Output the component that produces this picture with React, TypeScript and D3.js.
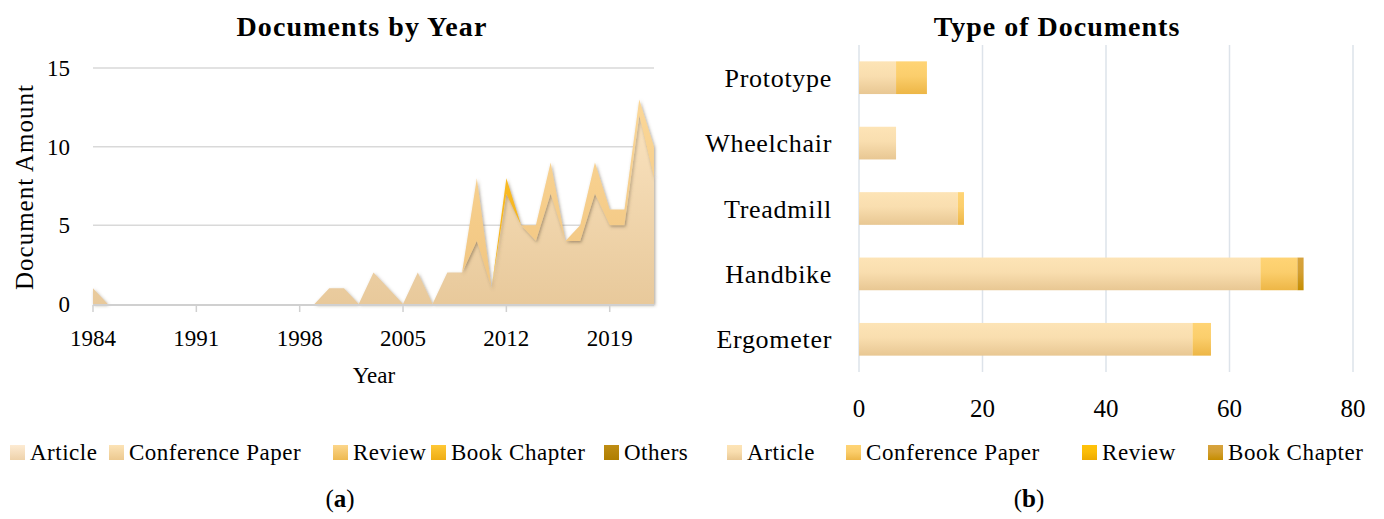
import * as d3 from "d3";

// ---- (a) documents by year ----
const years = [
  1984, 1985, 1986, 1987, 1988, 1989, 1990, 1991, 1992, 1993, 1994, 1995, 1996,
  1997, 1998, 1999, 2000, 2001, 2002, 2003, 2004, 2005, 2006, 2007, 2008, 2009,
  2010, 2011, 2012, 2013, 2014, 2015, 2016, 2017, 2018, 2019, 2020, 2021, 2022,
];
const yearArticle = [
  1, 0, 0, 0, 0, 0, 0, 0, 0, 0, 0, 0, 0, 0, 0, 0, 1, 1, 0, 2, 1, 0, 2, 0, 2, 2,
  4, 1, 7, 5, 4, 7, 4, 4, 7, 5, 5, 12, 8,
];
const yearConference = [
  0, 0, 0, 0, 0, 0, 0, 0, 0, 0, 0, 0, 0, 0, 0, 0, 0, 0, 0, 0, 0, 0, 0, 0, 0, 0,
  4, 0, 0, 0, 1, 2, 0, 1, 2, 1, 1, 1, 2,
];
const yearReview = [
  0, 0, 0, 0, 0, 0, 0, 0, 0, 0, 0, 0, 0, 0, 0, 0, 0, 0, 0, 0, 0, 0, 0, 0, 0, 0,
  0, 0, 0, 0, 0, 0, 0, 0, 0, 0, 0, 0, 0,
];
const yearBookChapter = [
  0, 0, 0, 0, 0, 0, 0, 0, 0, 0, 0, 0, 0, 0, 0, 0, 0, 0, 0, 0, 0, 0, 0, 0, 0, 0,
  0, 0, 1, 0, 0, 0, 0, 0, 0, 0, 0, 0, 0,
];
const yearOthers = [
  0, 0, 0, 0, 0, 0, 0, 0, 0, 0, 0, 0, 0, 0, 0, 0, 0, 0, 0, 0, 0, 0, 0, 0, 0, 0,
  0, 0, 0, 0, 0, 0, 0, 0, 0, 0, 0, 0, 0,
];
const yearTicks = [1984, 1991, 1998, 2005, 2012, 2019];
const amountTicks = [0, 5, 10, 15];
const yearKeys = ["Article", "Conference Paper", "Review", "Book Chapter", "Others"];

// ---- (b) type of documents ----
const types = ["Prototype", "Wheelchair", "Treadmill", "Handbike", "Ergometer"];
const typeArticle = [6, 6, 16, 65, 54];
const typeConference = [5, 0, 1, 6, 3];
const typeReview = [0, 0, 0, 0, 0];
const typeBookChapter = [0, 0, 0, 1, 0];
const countTicks = [0, 20, 40, 60, 80];
const typeKeys = ["Article", "Conference Paper", "Review", "Book Chapter"];

const FONT = "'Palatino Linotype', 'Book Antiqua', Palatino, 'Liberation Serif', serif";

// gradient stops [top, bottom]
const areaFill: Record<string, [string, string]> = {
  Article: ["#FEE9C8", "#E8C99B"],
  "Conference Paper": ["#FDDA9B", "#F0C47F"],
  Review: ["#FCCF78", "#EEB64C"],
  "Book Chapter": ["#FFC534", "#F2AE12"],
  Others: ["#BD8B12", "#AE7D00"],
};
const leftSwatch: Record<string, [string, string]> = {
  Article: ["#FDEBD3", "#EED2AA"],
  "Conference Paper": ["#FCE3B6", "#ECC990"],
  Review: ["#FCD68B", "#EDB951"],
  "Book Chapter": ["#FFC836", "#EEAD14"],
  Others: ["#BF8D14", "#AF7E00"],
};
const barFill: Record<string, [string, string]> = {
  Article: ["#FDE4B6", "#E8C793"],
  "Conference Paper": ["#FFD475", "#EDB646"],
  Review: ["#FFC20A", "#EDAA00"],
  "Book Chapter": ["#D7A33E", "#C58D00"],
};

const idOf = (s: string) => s.replace(/\s+/g, "");

export default function App() {
  // left chart geometry
  const x = d3.scaleLinear().domain([1984, 2022]).range([93, 654]);
  const y = d3.scaleLinear().domain([0, 15]).range([304, 68]);

  const yearRows = years.map((yr, i) => ({
    year: yr,
    Article: yearArticle[i],
    "Conference Paper": yearConference[i],
    Review: yearReview[i],
    "Book Chapter": yearBookChapter[i],
    Others: yearOthers[i],
  }));
  const yearStack = d3.stack<any>().keys(yearKeys)(yearRows);
  const area = d3
    .area<any>()
    .x((d) => x(d.data.year))
    .y0((d) => y(d[0]))
    .y1((d) => y(d[1]));

  // right chart geometry
  const xb = d3.scaleLinear().domain([0, 80]).range([859, 1353]);
  const yb = d3.scaleBand().domain(types).range([45, 372]).paddingInner(0.5).paddingOuter(0.25);
  const typeRows = types.map((t, i) => ({
    type: t,
    Article: typeArticle[i],
    "Conference Paper": typeConference[i],
    Review: typeReview[i],
    "Book Chapter": typeBookChapter[i],
  }));
  const typeStack = d3.stack<any>().keys(typeKeys)(typeRows);

  const leftLegendX = [10, 109, 333, 431, 604];
  const rightLegendX = [727, 846, 1082, 1208];

  return (
    <svg
      width={1384}
      height={519}
      style={{ display: "block", position: "absolute", left: 0, top: 0, fontFamily: FONT }}
    >
      <defs>
        {yearKeys.map((k) => (
          <linearGradient key={k} id={`ga-${idOf(k)}`} gradientUnits="userSpaceOnUse" x1={0} y1={68} x2={0} y2={304}>
            <stop offset="0%" stopColor={areaFill[k][0]} />
            <stop offset="100%" stopColor={areaFill[k][1]} />
          </linearGradient>
        ))}
        {yearKeys.map((k) => (
          <linearGradient key={k} id={`gl-${idOf(k)}`} x1={0} y1={0} x2={0} y2={1}>
            <stop offset="0%" stopColor={leftSwatch[k][0]} />
            <stop offset="100%" stopColor={leftSwatch[k][1]} />
          </linearGradient>
        ))}
        {typeKeys.map((k) => (
          <linearGradient key={k} id={`gb-${idOf(k)}`} x1={0} y1={0} x2={0} y2={1}>
            <stop offset="0%" stopColor={barFill[k][0]} />
            <stop offset="45%" stopColor={d3.interpolateRgb(barFill[k][0], barFill[k][1])(0.2)} />
            <stop offset="100%" stopColor={barFill[k][1]} />
          </linearGradient>
        ))}
        <filter id="shadow" x="-5%" y="-5%" width="110%" height="115%">
          <feDropShadow dx={1.2} dy={1.5} stdDeviation={1.6} floodColor="#5e4f38" floodOpacity={0.5} />
        </filter>
      </defs>

      {/* ---------- (a) ---------- */}
      <text x={362} y={36} textAnchor="middle" fontWeight="bold" fontSize={28} letterSpacing={1.1}>
        Documents by Year
      </text>
      {amountTicks.slice(1).map((t) => (
        <line key={t} x1={x.range()[0]} x2={x.range()[1]} y1={y(t)} y2={y(t)} stroke="#d9d9d9" strokeWidth={1.5} />
      ))}
      {yearStack.map((s) => (
        <path key={s.key} d={area(s) || ""} fill={`url(#ga-${idOf(s.key)})`} filter="url(#shadow)" />
      ))}
      <line x1={x.range()[0]} x2={x.range()[1]} y1={y(0) + 1} y2={y(0) + 1} stroke="#d0d0d0" strokeWidth={2} />
      {yearTicks.map((t) => (
        <g key={t}>
          <line x1={x(t)} x2={x(t)} y1={y(0) + 1} y2={y(0) + 8} stroke="#d0d0d0" strokeWidth={1.5} />
          <text x={x(t)} y={346} textAnchor="middle" fontSize={23}>
            {t}
          </text>
        </g>
      ))}
      {amountTicks.map((t) => (
        <text key={t} x={70} y={y(t)} dy="0.35em" textAnchor="end" fontSize={23}>
          {t}
        </text>
      ))}
      <text transform={`translate(33,187) rotate(-90)`} textAnchor="middle" fontSize={25} letterSpacing={1}>
        Document Amount
      </text>
      <text x={374} y={383} textAnchor="middle" fontSize={23}>
        Year
      </text>
      {yearKeys.map((k, i) => (
        <g key={k}>
          <rect x={leftLegendX[i]} y={445} width={15} height={15} fill={`url(#gl-${idOf(k)})`} />
          <text x={leftLegendX[i] + 20} y={460} fontSize={23} letterSpacing={0.5}>
            {k}
          </text>
        </g>
      ))}
      <text x={340} y={507} textAnchor="middle" fontSize={25}>
        (<tspan fontWeight="bold">a</tspan>)
      </text>

      {/* ---------- (b) ---------- */}
      <text x={1057} y={36} textAnchor="middle" fontWeight="bold" fontSize={28} letterSpacing={1}>
        Type of Documents
      </text>
      {countTicks.map((t) => (
        <g key={t}>
          <line x1={xb(t)} x2={xb(t)} y1={45} y2={372} stroke="#dde3ea" strokeWidth={1.5} />
          <text x={xb(t)} y={417} textAnchor="middle" fontSize={25}>
            {t}
          </text>
        </g>
      ))}
      {typeStack.map((s) =>
        s.map((d: any) =>
          d[1] > d[0] ? (
            <rect
              key={`${s.key}-${d.data.type}`}
              x={xb(d[0])}
              y={yb(d.data.type)}
              width={xb(d[1]) - xb(d[0])}
              height={yb.bandwidth()}
              fill={`url(#gb-${idOf(s.key)})`}
            />
          ) : null
        )
      )}
      {types.map((t) => (
        <text key={t} x={832} y={(yb(t) || 0) + yb.bandwidth() / 2} dy="0.35em" textAnchor="end" fontSize={26} letterSpacing={0.7}>
          {t}
        </text>
      ))}
      {typeKeys.map((k, i) => (
        <g key={k}>
          <rect x={rightLegendX[i]} y={445} width={15} height={15} fill={`url(#gb-${idOf(k)})`} />
          <text x={rightLegendX[i] + 20} y={460} fontSize={23} letterSpacing={0.6}>
            {k}
          </text>
        </g>
      ))}
      <text x={1029} y={507} textAnchor="middle" fontSize={25}>
        (<tspan fontWeight="bold">b</tspan>)
      </text>
    </svg>
  );
}
